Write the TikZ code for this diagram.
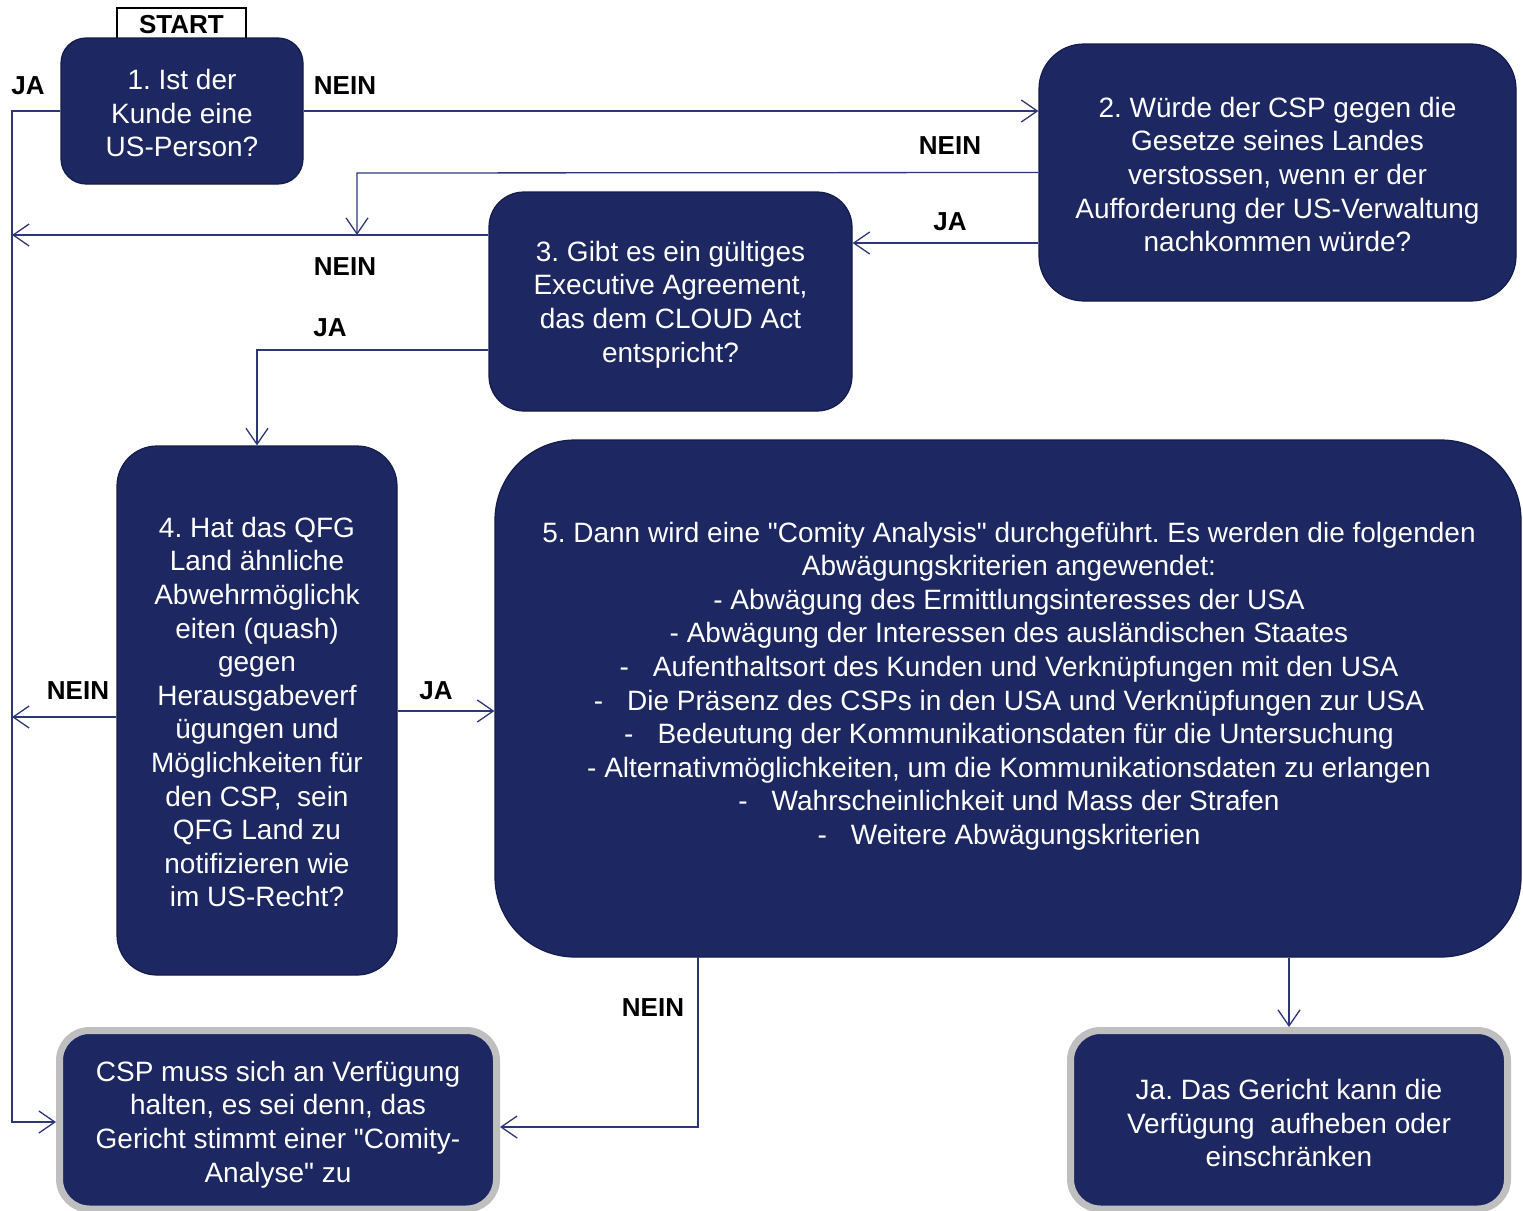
\documentclass[tikz,border=0pt]{standalone}
\usepackage{fontspec}
\setmainfont{Liberation Sans}[Ligatures=TeXOff]
\usetikzlibrary{arrows.meta}
\definecolor{navy}{RGB}{29,39,97}
\definecolor{navyedge}{RGB}{20,28,75}
\definecolor{conncol}{RGB}{45,55,120}
\definecolor{framegray}{RGB}{191,191,191}
\tikzset{
  box/.style={draw=navyedge, line width=1.2pt, fill=navy, text=white, align=center, inner sep=0pt, font=\fontsize{28}{33.6}\selectfont},
  endbox/.style={box, draw=framegray, line width=7pt},
  boxtext/.style={text=white, align=center, inner sep=0pt, font=\fontsize{28}{33.6}\selectfont},
  conn/.style={draw=conncol, line width=1.3pt, -{Straight Barb[length=16pt,width=22pt,line width=1.3pt]}},
  lbl/.style={font=\bfseries\fontsize{26}{30}\selectfont, inner sep=0pt},
  startbox/.style={draw=black, line width=1.5pt, fill=white, minimum width=129pt, minimum height=34pt, inner sep=0pt, font=\bfseries\fontsize{26}{30}\selectfont}
}
\frenchspacing
\begin{document}
\begin{tikzpicture}[x=1pt,y=-1pt]
\useasboundingbox (0,0) rectangle (1523,1210);

% START label box
\node[startbox] (start) at (181.5,25) {START};

% Decision boxes
\node[box, rounded corners=25pt, minimum width=242pt, minimum height=146pt] (b1) at (182,111) {};
\node[boxtext] (t1) at (182,113) {1. Ist der\\Kunde eine\\US-Person?};
\node[box, rounded corners=45pt, minimum width=477pt, minimum height=257pt] (b2) at (1277.5,172.5) {};
\node[boxtext] (t2) at (1277.5,174.5) {2. Würde der CSP gegen die\\Gesetze seines Landes\\verstossen, wenn er der\\Aufforderung der US-Verwaltung\\nachkommen würde?};
\node[box, rounded corners=35pt, minimum width=363pt, minimum height=219pt] (b3) at (670.5,301.5) {};
\node[boxtext] (t3) at (670.5,304.5) {3. Gibt es ein gültiges\\Executive Agreement,\\das dem CLOUD Act\\entspricht?};
\node[box, rounded corners=40pt, minimum width=280pt, minimum height=529pt] (b4) at (257,710.5) {};
\node[boxtext] (t4) at (257,712) {4. Hat das QFG\\Land ähnliche\\Abwehrmöglichk\\eiten (quash)\\gegen\\Herausgabeverf\\ügungen und\\Möglichkeiten für\\den CSP,\ \ sein\\QFG Land zu\\notifizieren wie\\im US-Recht?};
\node[box, rounded corners=80pt, minimum width=1026pt, minimum height=517pt] (b5) at (1008,698.5) {};
\node[boxtext] (t5) at (1009,686) {5. Dann wird eine "Comity Analysis" durchgeführt. Es werden die folgenden\\Abwägungskriterien angewendet:\\- Abwägung des Ermittlungsinteresses der USA\\- Abwägung der Interessen des ausländischen Staates\\-\hspace{24pt}Aufenthaltsort des Kunden und Verknüpfungen mit den USA\\-\hspace{24pt}Die Präsenz des CSPs in den USA und Verknüpfungen zur USA\\-\hspace{24pt}Bedeutung der Kommunikationsdaten für die Untersuchung\\- Alternativmöglichkeiten, um die Kommunikationsdaten zu erlangen\\-\hspace{24pt}Wahrscheinlichkeit und Mass der Strafen\\-\hspace{24pt}Weitere Abwägungskriterien};

% Result boxes
\node[endbox, rounded corners=30pt, minimum width=437pt, minimum height=178.5pt] (b6) at (278,1119.75) {};
\node[boxtext] (t6) at (278,1124.5) {CSP muss sich an Verfügung\\halten, es sei denn, das\\Gericht stimmt einer "Comity-\\Analyse" zu};
\node[endbox, rounded corners=30pt, minimum width=437pt, minimum height=178.5pt] (b7) at (1289,1119.75) {};
\node[boxtext] (t7) at (1289,1123) {Ja. Das Gericht kann die\\Verfügung\ \ aufheben oder\\einschränken};

% helper coordinates
\coordinate (jaL) at (12,111);
\coordinate (jaB) at (12,1122);
\coordinate (n2a) at (357,173);
\coordinate (m3) at (12,235);
\coordinate (y243) at (0,243);
\coordinate (y350) at (0,350);
\coordinate (m4) at (12,717);
\coordinate (y717) at (0,717);
\coordinate (y711) at (0,711);
\coordinate (n5a) at (698,957);
\coordinate (n5b) at (698,1127);
\coordinate (x1289) at (1289,0);

% connectors
\draw[conn] (b1.west) -- (jaL) -- (jaB) -- (jaB -| b6.west);
\draw[conn] (b1.east) -- (b1.east -| b2.west);
\draw[conn] (b2.west) -- (n2a) -- (n2a |- m3);
\draw[conn] (b3.west |- m3) -- (m3);
\draw[conn] (b2.west |- y243) -- (b3.east |- y243);
\draw[conn] (b3.west |- y350) -- (b4.north |- y350) -- (b4.north);
\draw[conn] (b4.west |- y717) -- (m4);
\draw[conn] (b4.east |- y711) -- (b5.west |- y711);
\draw[conn] (n5a) -- (n5b) -- (n5b -| b6.east);
\draw[conn] (b5.south -| x1289) -- (b7.north);

% labels
\node[lbl] (l1) at (28,86) {JA};
\node[lbl] (l2) at (345,86) {NEIN};
\node[lbl] (l3) at (950,146) {NEIN};
\node[lbl] (l4) at (950,222) {JA};
\node[lbl] (l5) at (345,267) {NEIN};
\node[lbl] (l6) at (330,328) {JA};
\node[lbl] (l7) at (78,691) {NEIN};
\node[lbl] (l8) at (436,691) {JA};
\node[lbl] (l9) at (653,1008) {NEIN};
\end{tikzpicture}
\end{document}
